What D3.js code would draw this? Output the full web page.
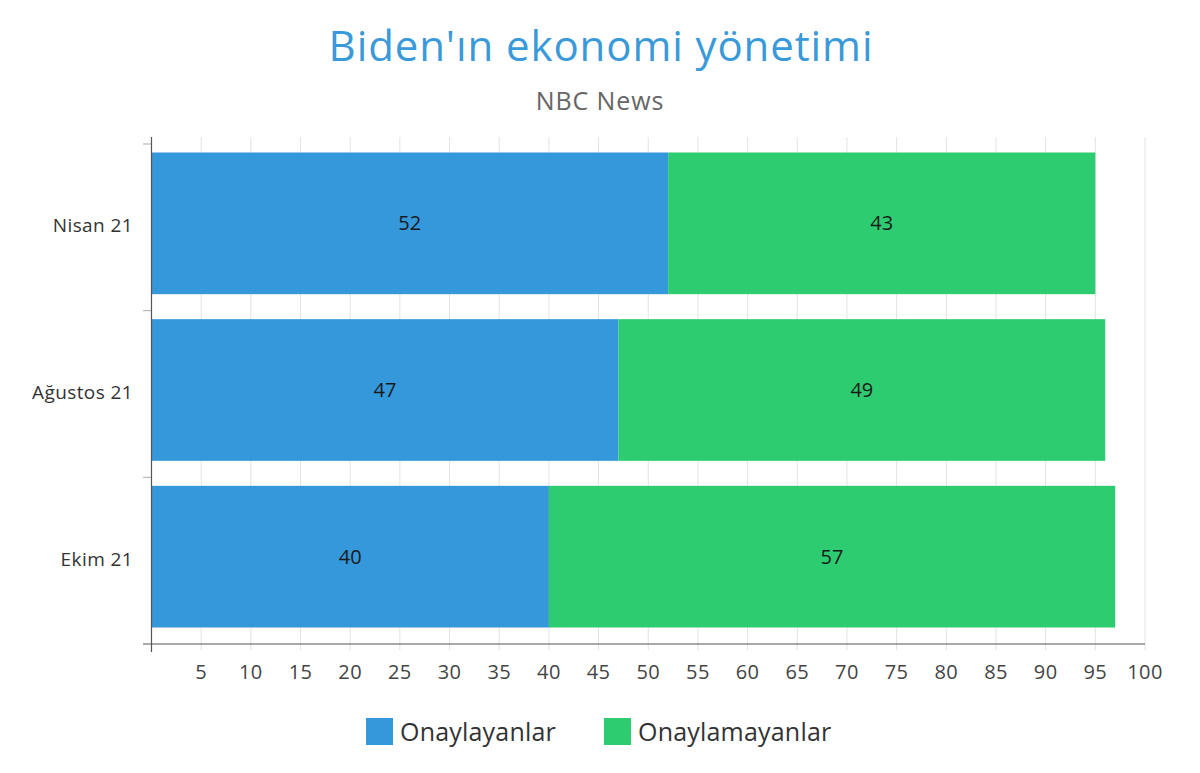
<!DOCTYPE html>
<html>
<head>
<meta charset="utf-8">
<script src="https://cdn.jsdelivr.net/npm/d3@7"></script>
<style>
  body { margin: 0; background: #fff; font-family: "Open Sans", sans-serif; }
</style>
</head>
<body>
<div id="container"></div>
<script>
// data
const categories = ["Nisan 21", "Ağustos 21", "Ekim 21"];
const approve = [52, 47, 40];
const disapprove = [43, 49, 57];
const seriesNames = ["Onaylayanlar", "Onaylamayanlar"];
const xTicks = [5, 10, 15, 20, 25, 30, 35, 40, 45, 50, 55, 60, 65, 70, 75, 80, 85, 90, 95, 100];

const width = 1200, height = 773;
const colors = ["#3498db", "#2ecc71"];

const svg = d3.select("#container").append("svg")
    .attr("width", width)
    .attr("height", height);

// title
svg.append("text")
    .attr("x", 601).attr("y", 61)
    .attr("text-anchor", "middle")
    .attr("fill", "#3a9ad9")
    .style("font-size", "42px")
    .style("letter-spacing", "0.9px")
    .text("Biden'ın ekonomi yönetimi");

svg.append("text")
    .attr("x", 600).attr("y", 110)
    .attr("text-anchor", "middle")
    .attr("fill", "#666")
    .style("font-size", "25px")
    .style("letter-spacing", "0.9px")
    .text("NBC News");

const x = d3.scaleLinear().domain([0, 100]).range([151.5, 1145]);
const plotTop = 137, plotBottom = 644;

const y = d3.scaleBand().domain(categories).range([144, 644]);
const yBar = d3.scaleBand().domain(categories).range([140, 640])
    .paddingInner(0.15).paddingOuter(0.075);

// gridlines
svg.append("g").selectAll("line").data(xTicks).enter().append("line")
    .attr("x1", d => x(d)).attr("x2", d => x(d))
    .attr("y1", plotTop).attr("y2", plotBottom + 6)
    .attr("stroke", "#e3e3e3").attr("stroke-width", 1);

// stacked bars
const rows = categories.map((c, i) => ({ cat: c, vals: [approve[i], disapprove[i]] }));
const stack = [];
rows.forEach(r => {
  let acc = 0;
  r.vals.forEach((v, j) => {
    stack.push({ cat: r.cat, s: j, x0: acc, x1: acc + v, v: v });
    acc += v;
  });
});

svg.append("g").selectAll("rect").data(stack).enter().append("rect")
    .attr("x", d => x(d.x0))
    .attr("width", d => x(d.x1) - x(d.x0))
    .attr("y", d => yBar(d.cat))
    .attr("height", yBar.bandwidth())
    .attr("fill", d => colors[d.s]);

svg.append("g").selectAll("text").data(stack).enter().append("text")
    .attr("x", d => (x(d.x0) + x(d.x1)) / 2)
    .attr("y", d => yBar(d.cat) + yBar.bandwidth() / 2 + 7)
    .attr("text-anchor", "middle")
    .attr("fill", "#1a1a1a")
    .style("font-size", "20px")
    .text(d => d.v);

// axes
svg.append("line")
    .attr("x1", 143).attr("x2", 1145)
    .attr("y1", plotBottom).attr("y2", plotBottom)
    .attr("stroke", "#555").attr("stroke-width", 1.2);
svg.append("line")
    .attr("x1", 151.5).attr("x2", 151.5)
    .attr("y1", plotTop).attr("y2", plotBottom + 8)
    .attr("stroke", "#555").attr("stroke-width", 1.2);

// y ticks at band boundaries
const boundaries = categories.map(c => y(c)).concat([y(categories[2]) + y.bandwidth()]);
svg.append("g").selectAll("line").data(boundaries).enter().append("line")
    .attr("x1", 143).attr("x2", 151)
    .attr("y1", d => d).attr("y2", d => d)
    .attr("stroke", "#aaa");

svg.append("g").selectAll("text").data(xTicks).enter().append("text")
    .attr("x", d => x(d)).attr("y", 679)
    .attr("text-anchor", "middle")
    .attr("fill", "#444")
    .style("font-size", "20px")
    .style("letter-spacing", "0.4px")
    .text(d => d);

svg.append("g").selectAll("text").data(categories).enter().append("text")
    .attr("x", 133)
    .attr("y", d => y(d) + y.bandwidth() / 2 + 5)
    .attr("text-anchor", "end")
    .attr("fill", "#333")
    .style("font-size", "19px")
    .style("letter-spacing", "0.4px")
    .text(d => d);

// legend
const legendX = [366, 604];
const lg = svg.append("g").selectAll("g").data(seriesNames).enter().append("g")
    .attr("transform", (d, i) => `translate(${legendX[i]}, 718)`);
lg.append("rect").attr("width", 27).attr("height", 27)
    .attr("fill", (d, i) => colors[i]);
lg.append("text").attr("x", 34).attr("y", 23)
    .attr("fill", "#333")
    .style("font-size", "25px")
    .style("letter-spacing", "0.2px")
    .text(d => d);
</script>
</body>
</html>
